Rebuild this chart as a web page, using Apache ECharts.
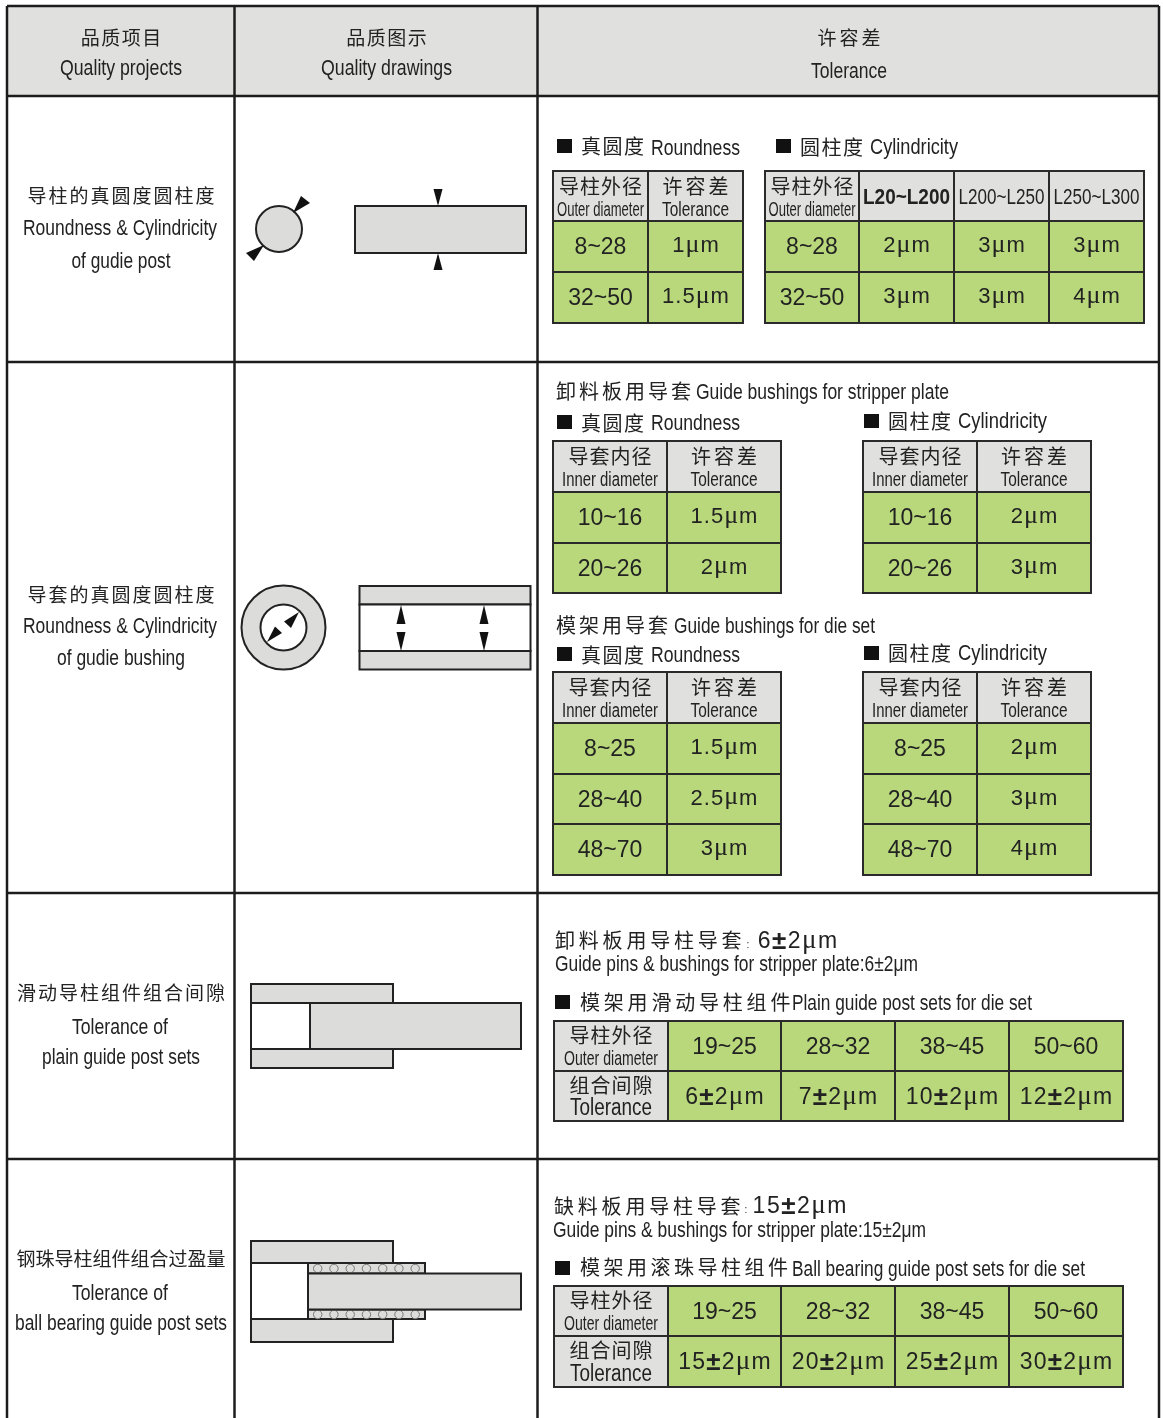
<!DOCTYPE html>
<html>
<head>
<meta charset="utf-8">
<title>Quality table</title>
<script src="https://cdn.jsdelivr.net/npm/echarts@6/dist/echarts.min.js"></script>
<style>
    html, body { margin: 0; padding: 0; background: #fff; }
    #chart { width: 1163px; height: 1418px; }
</style>
</head>
<body>
<div id="chart"></div>
<script>
// table text and values
const headerCn = ["品质项目", "品质图示", "许容差"];
const headerEn = ["Quality projects", "Quality drawings", "Tolerance"];
const itemCn = ["导柱的真圆度圆柱度", "导套的真圆度圆柱度", "滑动导柱组件组合间隙", "钢珠导柱组件组合过盈量"];
const itemEn1 = ["Roundness & Cylindricity", "Roundness & Cylindricity", "Tolerance of", "Tolerance of"];
const itemEn2 = ["of gudie post", "of gudie bushing", "plain guide post sets", "ball bearing guide post sets"];

const postDia = ["8~28", "32~50"];
const postRoundness = ["1μm", "1.5μm"];
const lengthRanges = ["L20~L200", "L200~L250", "L250~L300"];
const postCylL20 = ["2μm", "3μm"];
const postCylL200 = ["3μm", "3μm"];
const postCylL250 = ["3μm", "4μm"];

const stripperDia = ["10~16", "20~26"];
const stripperRoundness = ["1.5μm", "2μm"];
const stripperCyl = ["2μm", "3μm"];
const dieSetDia = ["8~25", "28~40", "48~70"];
const dieSetRoundness = ["1.5μm", "2.5μm", "3μm"];
const dieSetCyl = ["2μm", "3μm", "4μm"];

const plainDia = ["19~25", "28~32", "38~45", "50~60"];
const plainTol = ["6±2μm", "7±2μm", "10±2μm", "12±2μm"];
const ballDia = ["19~25", "28~32", "38~45", "50~60"];
const ballTol = ["15±2μm", "20±2μm", "25±2μm", "30±2μm"];

const GREEN = "#b8d87b";
const GRAY = "#e0e1de";
const INK = "#222222";
const CJK = '"Noto Sans CJK SC"';
const NARROW = '"Liberation Sans Narrow", "Liberation Sans"';
const SANS = '"Liberation Sans"';
const SERIF = '"Liberation Serif"';

var items = [];
const measure = document.createElement("canvas").getContext("2d");

function textWidth(str, font) {
    measure.font = font;
    return measure.measureText(str).width;
}
function rect(x0, y0, x1, y1, fill, stroke, lw) {
    items.push({ kind: "rect", x0: x0, y0: y0, x1: x1, y1: y1, fill: fill, stroke: stroke, lw: lw });
}
function line(x0, y0, x1, y1, lw) {
    items.push({ kind: "line", x0: x0, y0: y0, x1: x1, y1: y1, lw: lw || 2 });
}
function circle(cx, cy, r, fill, stroke, lw) {
    items.push({ kind: "circle", x0: cx, y0: cy, r: r, fill: fill, stroke: stroke, lw: lw });
}
function poly(points) {
    items.push({ kind: "poly", x0: points[0][0], y0: points[0][1], points: points });
}
function label(str, x, y, font, scaleX, align) {
    items.push({ kind: "text", x0: x, y0: y, str: str, font: font, scaleX: scaleX || 1, align: align || "center" });
}
// latin text squeezed to the width it has in the picture, the original is a tall condensed face
function fit(str, cx, y, width, size, weight) {
    const font = (weight || "normal") + " " + (size + 2) + "px " + NARROW;
    label(str, cx, y + 1, font, width / textWidth(str, font));
}
// chinese, one char at a time because the picture spaces them out
function cn(str, x0, y, step, size) {
    const s = size || 20;
    const font = s + "px " + CJK;
    for (let i = 0; i < str.length; i++) {
        label(str[i], x0 + step * i + s / 2, y, font);
    }
}
function cnCenter(str, cx, y, step, size) {
    const s = size || 20;
    cn(str, cx - (step * (str.length - 1) + s) / 2, y, step, s);
}
// numbers and units: μ is the thin serif one, ± is heavy
function value(str, cx, y, size, extra) {
    const chars = Array.from(str);
    const fonts = chars.map(function (c) {
        if (c === "μ") return (size + 4) + "px " + SERIF;
        if (c === "±") return "bold " + (size + 3) + "px " + SANS;
        return size + "px " + SANS;
    });
    const widths = chars.map((c, i) => textWidth(c, fonts[i]));
    const total = widths.reduce((a, b) => a + b, 0) + extra * (chars.length - 1);
    let x = cx - total / 2;
    chars.forEach(function (c, i) {
        label(c, x + widths[i] / 2, c === "μ" ? y - 1 : y, fonts[i]);
        x += widths[i] + extra;
    });
}
function square(x, y) {
    rect(x, y, x + 15, y + 14, "#111", null, 0);
}
function tableGrid(xs, ys, fillAt) {
    for (let r = 0; r < ys.length - 1; r++) {
        for (let c = 0; c < xs.length - 1; c++) {
            rect(xs[c], ys[r], xs[c + 1], ys[r + 1], fillAt(r, c), "#2a2a2a", 2);
        }
    }
}
function mid(a, i) {
    return (a[i] + a[i + 1]) / 2;
}

// two column table: gray header, green body
function twoColTable(xs, ys, cnA, enA, enWidthA, cnStepA, cnB, rowsA, rowsB, enWidthB) {
    tableGrid(xs, ys, (r) => (r === 0 ? GRAY : GREEN));
    const hy = mid(ys, 0);
    cnCenter(cnA, mid(xs, 0), hy - 10, cnStepA);
    fit(enA, mid(xs, 0), hy + 13, enWidthA, 18);
    cnCenter(cnB, mid(xs, 1), hy - 10, 23);
    fit("Tolerance", mid(xs, 1), hy + 13, enWidthB, 18);
    rowsA.forEach((t, i) => value(t, mid(xs, 0), mid(ys, i + 1) + 1.5, 23, 0));
    rowsB.forEach((t, i) => value(t, mid(xs, 1), mid(ys, i + 1) - 0.5, 22, 1));
}
function wideTable(xs, ys, dia, tol, tolExtra) {
    tableGrid(xs, ys, (r, c) => (c === 0 ? GRAY : GREEN));
    cnCenter("导柱外径", mid(xs, 0), mid(ys, 0) - 11, 21);
    fit("Outer diameter", mid(xs, 0), mid(ys, 0) + 12, 94, 19);
    cnCenter("组合间隙", mid(xs, 0), mid(ys, 1) - 11, 21);
    fit("Tolerance", mid(xs, 0), mid(ys, 1) + 12, 82, 21);
    dia.forEach((t, i) => value(t, mid(xs, i + 1), mid(ys, 0) + 1.5, 23, 0));
    tol.forEach((t, i) => value(t, mid(xs, i + 1), mid(ys, 1) + 1.5, 23, tolExtra));
}

// page frame and header band
rect(7, 6, 1159, 96, GRAY, null, 0);
const colX = [7, 234.5, 537.5, 1159];
const rowY = [6, 96, 362, 893, 1159];
rowY.forEach((y) => line(7, y, 1159, y, 2.5));
colX.forEach((x) => line(x, 6, x, 1418, 2.5));

const headerCx = [121, 386.5, 849];
const headerEnW = [122, 131, 76];
const headerEnY = [68, 68, 71];
headerCn.forEach(function (t, i) {
    cnCenter(t, headerCx[i], 38, i === 2 ? 22 : 20.5, 19);
    fit(headerEn[i], headerCx[i], headerEnY[i], headerEnW[i], 20);
});

// left column
const itemY = [[196, 228, 261], [595, 626, 658], [993, 1027, 1057], [1259, 1293, 1323]];
const itemStep = [21, 21, 21, 19];
const itemEn1W = [194, 194, 96, 96];
const itemEn2W = [99, 128, 158, 212];
itemCn.forEach(function (t, i) {
    cnCenter(t, 121, itemY[i][0], itemStep[i], 19);
    fit(itemEn1[i], 120, itemY[i][1], itemEn1W[i], 20);
    fit(itemEn2[i], 121, itemY[i][2], itemEn2W[i], 20);
});

// drawing, guide post
circle(279, 229, 23, "#dcdcda", "#222", 2);
poly([[293, 213], [301, 196], [310, 203]]);
poly([[264, 245], [246, 253], [254, 261]]);
rect(355, 206, 526, 253, "#dcdcda", "#222", 2);
poly([[438, 206], [433.5, 189], [442.5, 189]]);
poly([[438, 253], [433.5, 270], [442.5, 270]]);

// drawing, guide bushing
circle(283.5, 627.5, 42, "#dcdcda", "#222", 2);
circle(283.5, 627.5, 23, "#ffffff", "#222", 2);
poly([[267, 642], [275, 626.5], [282, 633]]);
poly([[299, 612], [284, 621.5], [291, 628]]);
rect(359.5, 586, 530.5, 604.5, "#dcdcda", "#222", 2);
rect(359.5, 604.5, 530.5, 651, "#ffffff", "#222", 2);
rect(359.5, 651, 530.5, 669.5, "#dcdcda", "#222", 2);
[401, 484].forEach(function (x) {
    poly([[x, 605], [x - 4.5, 624], [x + 4.5, 624]]);
    poly([[x, 651], [x - 4.5, 632], [x + 4.5, 632]]);
});

// drawing, plain guide post set
rect(251, 984, 393, 1003, "#dcdcda", "#222", 2);
rect(251, 1003, 310, 1049, "#ffffff", "#222", 2);
rect(251, 1049, 393, 1068, "#dcdcda", "#222", 2);
rect(310, 1003, 521, 1049, "#dcdcda", "#222", 2);

// drawing, ball bearing guide post set
rect(251, 1241, 393, 1263, "#dcdcda", "#222", 2);
rect(251, 1263, 308, 1319, "#ffffff", "#222", 2);
rect(251, 1319, 393, 1342, "#dcdcda", "#222", 2);
rect(308, 1263, 425, 1273.5, "#dcdcda", "#222", 2);
rect(308, 1309.5, 425, 1319, "#dcdcda", "#222", 2);
for (let i = 0; i < 7; i++) {
    circle(317.7 + i * 16.25, 1268.5, 4.2, "#dcdcda", "#7a7a7a", 1);
    circle(317.7 + i * 16.25, 1314.5, 4.2, "#dcdcda", "#7a7a7a", 1);
}
rect(308, 1273.5, 521, 1309.5, "#dcdcda", "#222", 2);

// guide post tables
square(557, 139);
cn("真圆度", 581, 146, 21.5, 20);
fit("Roundness", 695.5, 148, 89, 20);
square(776, 139);
cn("圆柱度", 800, 147, 21.5, 20);
fit("Cylindricity", 914, 147, 88, 20);

twoColTable([553, 648, 743], [171, 221, 272, 323], "导柱外径", "Outer diameter", 87, 21, "许容差",
    postDia, postRoundness, 67);

const cylX = [765, 859, 954, 1049, 1144];
const cylY = [171, 221, 272, 323];
tableGrid(cylX, cylY, (r) => (r === 0 ? GRAY : GREEN));
cnCenter("导柱外径", mid(cylX, 0), 186, 21);
fit("Outer diameter", mid(cylX, 0), 209, 87, 18);
const lengthW = [87, 86, 86];
lengthRanges.forEach(function (t, i) {
    fit(t, mid(cylX, i + 1), 197, lengthW[i], 20, i === 0 ? "bold" : "normal");
});
postDia.forEach((t, i) => value(t, mid(cylX, 0), mid(cylY, i + 1) + 1.5, 23, 0));
[postCylL20, postCylL200, postCylL250].forEach(function (col, c) {
    col.forEach((t, i) => value(t, mid(cylX, c + 1), mid(cylY, i + 1) - 0.5, 22, 1));
});

// bushing tables, stripper plate
cn("卸料板用导套", 556, 391, 23, 20);
fit("Guide bushings for stripper plate", 822.5, 392, 253, 20);
square(557, 415);
cn("真圆度", 581, 423, 21.5, 20);
fit("Roundness", 695.5, 423, 89, 20);
square(864, 414);
cn("圆柱度", 888, 421, 21.5, 20);
fit("Cylindricity", 1002.5, 421, 89, 20);

const leftX = [553, 667, 781];
const rightX = [863, 977, 1091];
const stripperY = [441, 492, 543, 593];
twoColTable(leftX, stripperY, "导套内径", "Inner diameter", 96, 21, "许容差", stripperDia, stripperRoundness, 67);
twoColTable(rightX, stripperY, "导套内径", "Inner diameter", 96, 21, "许容差", stripperDia, stripperCyl, 67);

// bushing tables, die set
cn("模架用导套", 556, 625, 23, 20);
fit("Guide bushings for die set", 774.5, 626, 201, 20);
square(557, 647);
cn("真圆度", 581, 655, 21.5, 20);
fit("Roundness", 695.5, 655, 89, 20);
square(864, 646);
cn("圆柱度", 888, 653, 21.5, 20);
fit("Cylindricity", 1002.5, 653, 89, 20);

const dieSetY = [672, 723, 774, 824, 875];
twoColTable(leftX, dieSetY, "导套内径", "Inner diameter", 96, 21, "许容差", dieSetDia, dieSetRoundness, 67);
twoColTable(rightX, dieSetY, "导套内径", "Inner diameter", 96, 21, "许容差", dieSetDia, dieSetCyl, 67);

// plain guide post sets
cn("卸料板用导柱导套", 555, 940, 23.8, 20);
label(":", 748, 945, "10px " + SANS);
value("6±2μm", 797.5, 942, 23, 1.5);
fit("Guide pins & bushings for stripper plate:6±2μm", 736.5, 964, 363, 20);
square(555, 995);
cn("模架用滑动导柱组件", 580, 1002, 23.8, 20);
fit("Plain guide post sets for die set", 912, 1003, 240, 20);
wideTable([554, 668, 781, 895, 1009, 1123], [1021, 1071, 1121], plainDia, plainTol, 1.2);

// ball bearing guide post sets
cn("缺料板用导柱导套", 554, 1206, 23.8, 20);
label(":", 746, 1210, "10px " + SANS);
value("15±2μm", 799.5, 1207, 23, 1.5);
fit("Guide pins & bushings for stripper plate:15±2μm", 739.5, 1230, 373, 20);
square(555, 1261);
cn("模架用滚珠导柱组件", 580, 1267, 23.5, 20);
fit("Ball bearing guide post sets for die set", 938.5, 1269, 293, 20);
wideTable([554, 668, 781, 895, 1009, 1123], [1286, 1336, 1387], ballDia, ballTol, 1.2);

function renderItem(params, api) {
    const it = items[params.dataIndex];
    const p0 = api.coord([it.x0, it.y0]);
    if (it.kind === "rect") {
        const p1 = api.coord([it.x1, it.y1]);
        return {
            type: "rect",
            shape: { x: p0[0], y: p0[1], width: p1[0] - p0[0], height: p1[1] - p0[1] },
            style: { fill: it.fill, stroke: it.stroke, lineWidth: it.lw }
        };
    }
    if (it.kind === "line") {
        const p1 = api.coord([it.x1, it.y1]);
        return {
            type: "line",
            shape: { x1: p0[0], y1: p0[1], x2: p1[0], y2: p1[1] },
            style: { stroke: "#1c1c1c", lineWidth: it.lw }
        };
    }
    if (it.kind === "circle") {
        return {
            type: "circle",
            shape: { cx: p0[0], cy: p0[1], r: it.r },
            style: { fill: it.fill, stroke: it.stroke, lineWidth: it.lw }
        };
    }
    if (it.kind === "poly") {
        return {
            type: "polygon",
            shape: { points: it.points.map((pt) => api.coord(pt)) },
            style: { fill: "#111" }
        };
    }
    return {
        type: "text",
        x: p0[0],
        y: p0[1],
        scaleX: it.scaleX,
        style: { text: it.str, font: it.font, fill: INK, align: it.align, verticalAlign: "middle" }
    };
}

var chart = echarts.init(document.getElementById("chart"), null, { renderer: "canvas" });
chart.setOption({
    animation: false,
    backgroundColor: "#ffffff",
    grid: { left: 0, right: 0, top: 0, bottom: 0 },
    xAxis: { type: "value", min: 0, max: 1163, show: false },
    yAxis: { type: "value", min: 0, max: 1418, inverse: true, show: false },
    tooltip: { show: false },
    series: [{
        type: "custom",
        coordinateSystem: "cartesian2d",
        clip: false,
        silent: true,
        progressive: 0,
        renderItem: renderItem,
        data: items.map((it) => [it.x0, it.y0])
    }]
});
</script>
</body>
</html>
